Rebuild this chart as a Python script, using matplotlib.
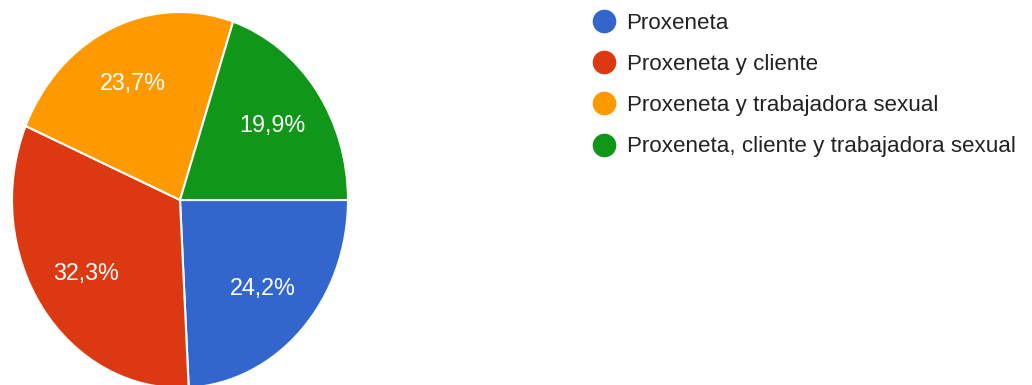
import matplotlib.pyplot as plt
from matplotlib.lines import Line2D

plt.rcParams['font.family'] = ['Liberation Sans', 'DejaVu Sans']

# respuestas (%)
categorias = ["Proxeneta",
              "Proxeneta y cliente",
              "Proxeneta y trabajadora sexual",
              "Proxeneta, cliente y trabajadora sexual"]
porcentajes = [24.2, 32.3, 23.7, 19.9]
colores = ["#3366CC", "#DC3912", "#FF9900", "#109618"]

W, H = 1032, 385
fig = plt.figure(figsize=(W / 100, H / 100), dpi=100)

# pie is drawn as a slightly tall ellipse, as in the exported form summary
ax = fig.add_axes([12 / W, -3 / H, 336 / W, 376 / H])
etiquetas = [("%.1f%%" % p).replace(".", ",") for p in porcentajes]
wedges, texts = ax.pie(porcentajes, colors=colores, labels=etiquetas,
                       startangle=0, counterclock=False, radius=1.0,
                       labeldistance=0.68,
                       wedgeprops=dict(edgecolor="white", linewidth=1.5),
                       textprops=dict(color="white", fontsize=16.8))
for t in texts:
    t.set_ha("center")
    t.set_va("center")
ax.set_aspect("auto")
ax.set_xlim(-1, 1)
ax.set_ylim(-1, 1)
ax.axis("off")

handles = [Line2D([], [], linestyle="none", marker="o", markersize=16,
                  markerfacecolor=c, markeredgecolor=c) for c in colores]
fig.legend(handles, categorias, loc="upper left",
           bbox_to_anchor=(593 / W, 1 - 13 / H), frameon=False,
           fontsize=16.1, labelcolor="#222222", handlelength=1.0,
           handletextpad=0.5, labelspacing=0.9, borderpad=0,
           borderaxespad=0)

fig.savefig("out.png", dpi=100, facecolor="white")
